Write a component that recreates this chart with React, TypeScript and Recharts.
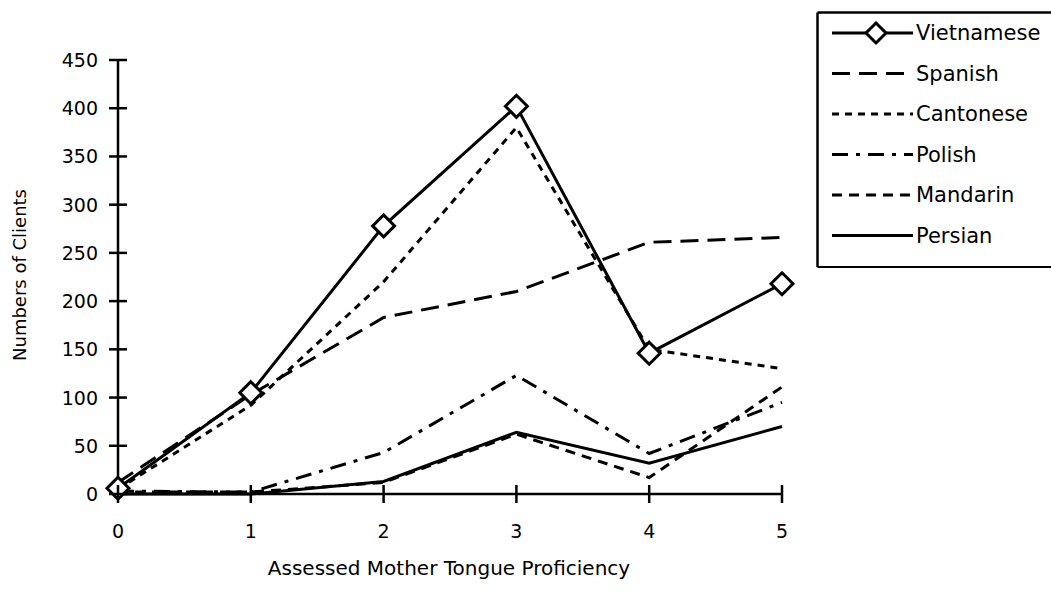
import React from 'react'
import { LineChart, Line, XAxis, YAxis, Legend } from 'recharts'

const proficiency = [0, 1, 2, 3, 4, 5]
const yTicks = [0, 50, 100, 150, 200, 250, 300, 350, 400, 450]

const vietnamese = [6, 105, 278, 402, 146, 218]
const spanish = [12, 103, 183, 210, 261, 266]
const cantonese = [5, 92, 220, 380, 150, 130]
const polish = [3, 2, 43, 123, 42, 95]
const mandarin = [2, 2, 12, 62, 17, 111]
const persian = [0, 0, 13, 64, 32, 70]

const series = [
  { key: 'Vietnamese', values: vietnamese, dash: undefined, marker: true },
  { key: 'Spanish', values: spanish, dash: '18 9', marker: false },
  { key: 'Cantonese', values: cantonese, dash: '7 6', marker: false },
  { key: 'Polish', values: polish, dash: '16 8 4 8', marker: false },
  { key: 'Mandarin', values: mandarin, dash: '10 7', marker: false },
  { key: 'Persian', values: persian, dash: undefined, marker: false },
]

const data = proficiency.map((p, i) => {
  const row: Record<string, number> = { p }
  series.forEach((s) => {
    row[s.key] = s.values[i]
  })
  return row
})

const FONT = 'DejaVu Sans, Arial, sans-serif'
const LINE_W = 3
const LEG_W = 235
const LEG_H = 258

function Diamond({ cx, cy, r = 11 }: { cx: number; cy: number; r?: number }) {
  return (
    <path
      d={`M${cx},${cy - r}L${cx + r},${cy}L${cx},${cy + r}L${cx - r},${cy}Z`}
      fill="#fff"
      stroke="#000"
      strokeWidth={3}
    />
  )
}

function YTick(props: any) {
  const { x, y, payload } = props
  return (
    <g>
      <line x1={x - 9} x2={x + 9} y1={y} y2={y} stroke="#000" strokeWidth={2.5} />
      <text x={x - 20} y={y} textAnchor="end" dominantBaseline="central" fontSize={19} fontFamily={FONT} fill="#000">
        {payload.value}
      </text>
    </g>
  )
}

function XTick(props: any) {
  const { x, y, payload } = props
  return (
    <g>
      <line x1={x} x2={x} y1={y - 9} y2={y + 9} stroke="#000" strokeWidth={2.5} />
      <text x={x} y={y + 37} textAnchor="middle" dominantBaseline="central" fontSize={19} fontFamily={FONT} fill="#000">
        {payload.value}
      </text>
    </g>
  )
}

// legend box: top, left and bottom edges only, the right side runs off the page
function LegendBox(props: any) {
  const items = [...(props.payload || [])].sort(
    (a: any, b: any) =>
      series.findIndex((s) => s.key === a.dataKey) - series.findIndex((s) => s.key === b.dataKey)
  )
  return (
    <svg width={LEG_W} height={LEG_H} style={{ display: 'block' }}>
      <rect x={0} y={0} width={LEG_W} height={LEG_H} fill="#fff" />
      <line x1={1.5} x2={LEG_W} y1={1.5} y2={1.5} stroke="#000" strokeWidth={2.5} />
      <line x1={1.5} x2={1.5} y1={1.5} y2={LEG_H - 2} stroke="#000" strokeWidth={2.5} />
      <line x1={1.5} x2={LEG_W} y1={LEG_H - 2} y2={LEG_H - 2} stroke="#000" strokeWidth={2} />
      {items.map((item: any, i: number) => {
        const s = series.find((d) => d.key === item.dataKey)!
        const y = 22 + i * 40.5
        return (
          <g key={s.key}>
            <line x1={16} x2={97} y1={y} y2={y} stroke="#000" strokeWidth={LINE_W} strokeDasharray={s.dash} />
            {s.marker && <Diamond cx={60} cy={y} r={10} />}
            <text x={100} y={y} dominantBaseline="central" fontSize={21} fontFamily={FONT} fill="#000">
              {item.value}
            </text>
          </g>
        )
      })}
    </svg>
  )
}

export default function App() {
  const drawOrder = [...series].reverse()
  return (
    <div style={{ position: 'absolute', left: 0, top: 0, width: 1051, height: 600, overflow: 'hidden', background: '#fff' }}>
      <LineChart width={1051} height={600} data={data} margin={{ top: 60, right: 269, bottom: 76, left: 58 }}>
        <XAxis
          dataKey="p"
          type="number"
          domain={[0, 5]}
          ticks={proficiency}
          height={30}
          tickSize={0}
          tickMargin={0}
          tickLine={false}
          axisLine={{ stroke: '#000', strokeWidth: 2.5 }}
          tick={<XTick />}
          label={{
            value: 'Assessed Mother Tongue Proficiency',
            content: () => (
              <text x={449} y={568} textAnchor="middle" dominantBaseline="central" fontSize={20} fontFamily={FONT} fill="#000">
                Assessed Mother Tongue Proficiency
              </text>
            ),
          }}
        />
        <YAxis
          type="number"
          domain={[0, 450]}
          ticks={yTicks}
          width={60}
          tickSize={0}
          tickMargin={0}
          tickLine={false}
          axisLine={{ stroke: '#000', strokeWidth: 2.5 }}
          tick={<YTick />}
          label={{
            value: 'Numbers of Clients',
            content: () => (
              <text
                x={19}
                y={275}
                transform="rotate(-90 19 275)"
                textAnchor="middle"
                dominantBaseline="central"
                fontSize={18}
                fontFamily={FONT}
                fill="#000"
              >
                Numbers of Clients
              </text>
            ),
          }}
        />
        <Legend
          layout="vertical"
          align="center"
          verticalAlign="middle"
          wrapperStyle={{ left: 816, top: 11, width: LEG_W, height: LEG_H }}
          content={<LegendBox />}
        />
        {drawOrder.map((s) => (
          <Line
            key={s.key}
            dataKey={s.key}
            name={s.key}
            stroke="#000"
            strokeWidth={LINE_W}
            strokeDasharray={s.dash}
            dot={s.marker ? (p: any) => <Diamond key={`d${p.index}`} cx={p.cx} cy={p.cy} r={11} /> : false}
            activeDot={false}
            isAnimationActive={false}
          />
        ))}
      </LineChart>
    </div>
  )
}
